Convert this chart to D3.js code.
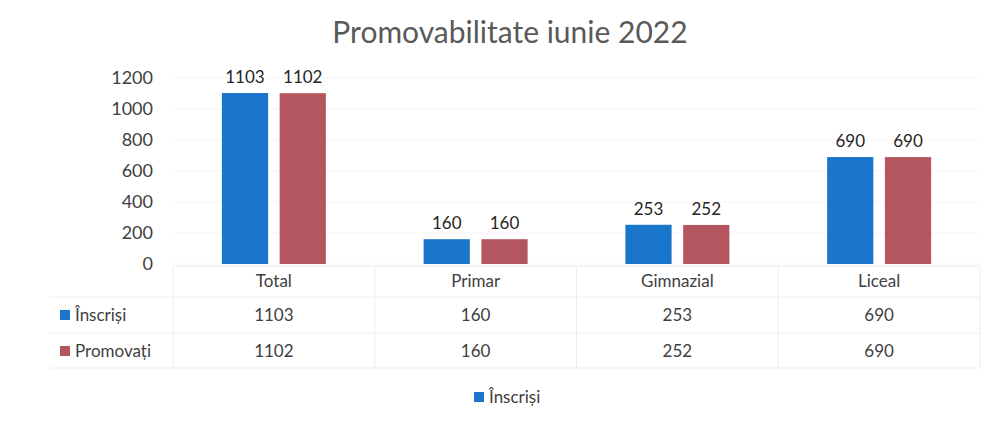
<!DOCTYPE html>
<html lang="ro">
<head>
<meta charset="UTF-8">
<title>Promovabilitate iunie 2022</title>
<script src="https://d3js.org/d3.v7.min.js"></script>
<style>
  body { margin: 0; background: #fff; }
  svg text { font-family: Lato, "Open Sans", sans-serif; }
</style>
</head>
<body>
<div id="chart"></div>
<script>
const categories = ["Total", "Primar", "Gimnazial", "Liceal"];
const inscrisi = [1103, 160, 253, 690];
const promovati = [1102, 160, 252, 690];
const seriesNames = ["Înscriși", "Promovați"];
const colors = ["#1976cb", "#b4565f"];
const yTicks = [0, 200, 400, 600, 800, 1000, 1200];

const W = 998, H = 428;
const plot = { left: 173, right: 980, top: 78, bottom: 264 };

const svg = d3.select("#chart").append("svg")
    .attr("width", W).attr("height", H);

svg.append("rect").attr("width", W).attr("height", H).attr("fill", "#fff");

svg.append("text")
    .attr("x", 510).attr("y", 43)
    .attr("text-anchor", "middle")
    .attr("font-size", 30)
    .attr("fill", "#595959")
    .text("Promovabilitate iunie 2022");

const x = d3.scaleBand().domain(categories).range([plot.left, plot.right]);
const y = d3.scaleLinear().domain([0, 1200]).range([plot.bottom, plot.top]);
const x1 = d3.scaleBand().domain(seriesNames).range([0, 104]).paddingInner(0.2);

// faint gridlines
svg.append("g").selectAll("line").data(yTicks).join("line")
    .attr("x1", plot.left).attr("x2", plot.right)
    .attr("y1", d => y(d)).attr("y2", d => y(d))
    .attr("stroke", "#f5f5f5");

const yAxis = svg.append("g")
    .attr("transform", `translate(${plot.left - 20},0)`)
    .call(d3.axisLeft(y).tickValues(yTicks).tickFormat(d3.format("d")).tickSize(0).tickPadding(0));
yAxis.select(".domain").remove();
yAxis.selectAll("text").attr("font-size", 18).attr("fill", "#404040")
    .style("font-family", "Lato, sans-serif");

const series = [inscrisi, promovati];
series.forEach((vals, s) => {
  const g = svg.append("g");
  g.selectAll("rect").data(vals).join("rect")
      .attr("x", (d, i) => x(categories[i]) + x.bandwidth() / 2 - 52 + x1(seriesNames[s]))
      .attr("y", d => y(d))
      .attr("width", x1.bandwidth())
      .attr("height", d => plot.bottom - y(d))
      .attr("fill", colors[s]);
  g.selectAll("text").data(vals).join("text")
      .attr("x", (d, i) => x(categories[i]) + x.bandwidth() / 2 - 52 + x1(seriesNames[s]) + x1.bandwidth() / 2)
      .attr("y", d => y(d) - 10)
      .attr("text-anchor", "middle")
      .attr("font-size", 17)
      .attr("fill", "#262626")
      .text(d => d);
});

// data table
const rowY = [281, 315, 351];
const tableTop = 266, tableBottom = 368;
const grid = svg.append("g").attr("stroke", "#eeeeee");
categories.concat(["_end"]).forEach((c, i) => {
  const xx = plot.left + i * x.bandwidth();
  grid.append("line").attr("x1", xx).attr("x2", xx)
      .attr("y1", tableTop).attr("y2", tableBottom);
});
[tableTop, 297, 333, tableBottom].forEach((yy, i) => {
  grid.append("line")
      .attr("x1", i === 0 ? plot.left : 50).attr("x2", plot.right)
      .attr("y1", yy).attr("y2", yy);
});

svg.append("g").selectAll("text").data(categories).join("text")
    .attr("x", d => x(d) + x.bandwidth() / 2)
    .attr("y", rowY[0] + 6)
    .attr("text-anchor", "middle")
    .attr("font-size", 17).attr("fill", "#404040")
    .text(d => d);

series.forEach((vals, s) => {
  const g = svg.append("g");
  g.selectAll("text").data(vals).join("text")
      .attr("x", (d, i) => x(categories[i]) + x.bandwidth() / 2)
      .attr("y", rowY[s + 1] + 6)
      .attr("text-anchor", "middle")
      .attr("font-size", 17).attr("fill", "#404040")
      .text(d => d);
  g.append("rect")
      .attr("x", 60).attr("y", rowY[s + 1] - 5)
      .attr("width", 10).attr("height", 10)
      .attr("fill", colors[s]);
  g.append("text")
      .attr("x", 75).attr("y", rowY[s + 1] + 6)
      .attr("font-size", 17).attr("fill", "#404040")
      .text(seriesNames[s]);
});

// legend
const leg = svg.append("g");
leg.append("rect").attr("x", 474).attr("y", 392).attr("width", 10).attr("height", 10)
    .attr("fill", colors[0]);
leg.append("text").attr("x", 489).attr("y", 403)
    .attr("font-size", 17).attr("fill", "#404040")
    .text(seriesNames[0]);
</script>
</body>
</html>
